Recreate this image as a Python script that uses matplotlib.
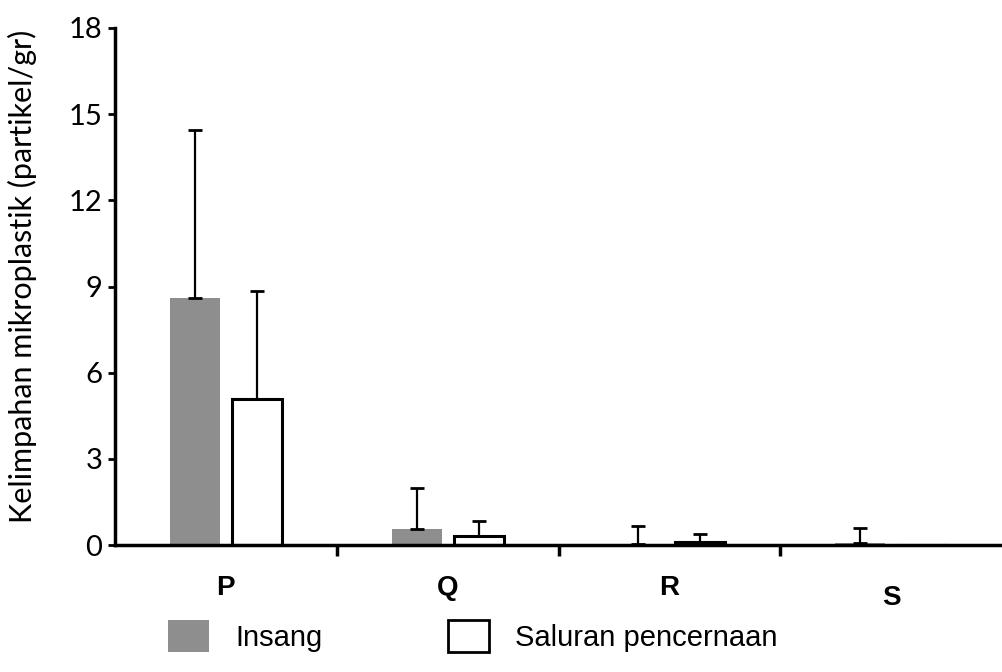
import matplotlib
matplotlib.use("Agg")
import matplotlib.pyplot as plt
import numpy as np
from matplotlib.patches import Patch

# -----------------------------------------------------------------------------
# Data
# -----------------------------------------------------------------------------
stations     = ["P", "Q", "R", "S"]
insang       = [8.6, 0.55, 0.05, 0.08]
insang_err   = [5.85, 1.45, 0.6, 0.5]
saluran      = [5.1, 0.3, 0.1, 0.0]
saluran_err  = [3.75, 0.55, 0.28, 0.0]
yticks       = [0, 3, 6, 9, 12, 15, 18]
label_drop   = [1.5, 1.5, 1.5, 1.85]   # S sits a bit lower in the original

GEO   = "Lato"
ARIAL = "Liberation Sans"

fig = plt.figure(figsize=(10.02, 6.72), dpi=100)
ax = fig.add_axes([115 / 1002, 1 - 545 / 672, 887 / 1002, 517 / 672])

x = np.arange(len(stations))
w = 0.225
off = 0.14

ax.bar(x - off, insang, w, color="#8e8e8e", edgecolor="none", zorder=2)
ax.bar(x + off, saluran, w, color="white", edgecolor="black", lw=2.2, zorder=2)

err_kw = dict(fmt="none", ecolor="black", elinewidth=1.6, capsize=5,
              capthick=2, zorder=3)
ax.errorbar(x - off, insang, yerr=[np.zeros(4), insang_err], **err_kw)
ax.errorbar(x + off, saluran, yerr=[np.zeros(4), saluran_err], **err_kw)

ax.set_xlim(-0.5, 3.5)
ax.set_ylim(0, 18)
ax.set_yticks(yticks)
ax.set_yticklabels([str(t) for t in yticks], fontsize=21, family=GEO)

# category separator ticks on the x axis
ax.set_xticks([0.5, 1.5, 2.5])
ax.set_xticklabels([])
ax.tick_params(axis="x", direction="out", length=8, width=2.5)
ax.tick_params(axis="y", direction="out", length=5, width=2, pad=4)

for i, s in enumerate(stations):
    ax.text(i, -label_drop[i], s, ha="center", va="center", fontsize=20,
            fontweight="bold", family=ARIAL)

for side in ("top", "right"):
    ax.spines[side].set_visible(False)
ax.spines["left"].set_linewidth(2.5)
ax.spines["bottom"].set_linewidth(2.5)

ax.set_ylabel("Kelimpahan mikroplastik (partikel/gr)", fontsize=22, family=GEO)
ax.yaxis.set_label_coords(-0.088, 0.52)

handles = [
    Patch(facecolor="#8e8e8e", edgecolor="none"),
    Patch(facecolor="white", edgecolor="black", lw=2),
]
fig.legend(handles, ["Insang", "Saluran pencernaan"], loc="upper left",
           bbox_to_anchor=(168 / 1002, 1 - 620 / 672), ncol=2, frameon=False,
           prop={"family": ARIAL, "size": 21}, handlelength=1.4,
           handleheight=1.3, handletextpad=0.9, columnspacing=4.3,
           borderpad=0, borderaxespad=0)

fig.savefig("out.png", dpi=100)
